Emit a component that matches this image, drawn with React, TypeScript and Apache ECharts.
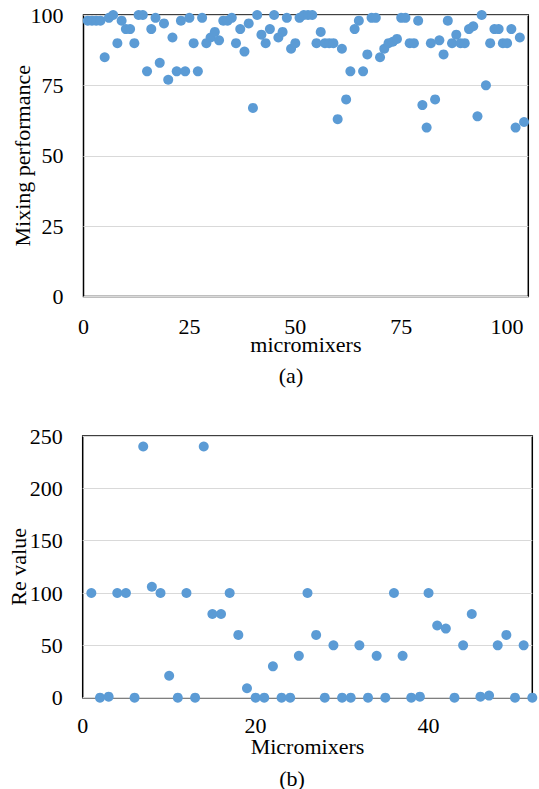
import React, { useEffect, useRef } from "react";
import * as echarts from "echarts";

// Chart (a): mixing performance of each micromixer (x = 1..104)
const mixingPerformance: number[] = [
  98, 98, 98, 98, 85, 99, 100, 90, 98, 95,
  95, 90, 100, 100, 80, 95, 99, 83, 97, 77,
  92, 80, 98, 80, 99, 90, 80, 99, 90, 92,
  94, 91, 98, 98, 99, 90, 95, 87, 97, 67,
  100, 93, 90, 95, 100, 92, 94, 99, 88, 90,
  99, 100, 100, 100, 90, 94, 90, 90, 90, 63,
  88, 70, 80, 95, 98, 80, 86, 99, 99, 85,
  88, 90, 90.5, 91.5, 99, 99, 90, 90, 98, 68,
  60, 90, 70, 91, 86, 98, 90, 93, 90, 90,
  95, 96, 64, 100, 75, 90, 95, 95, 90, 90,
  95, 60, 92, 62,
];

// Chart (b): Re value of each micromixer (x = 1..52)
const reValues: number[] = [
  100, 0, 1, 100, 100, 0, 240, 106, 100, 21,
  0, 100, 0, 240, 80, 80, 100, 60, 9, 0,
  0, 30, 0, 0, 40, 100, 60, 0, 50, 0,
  0, 50, 0, 40, 0, 100, 40, 0, 1, 100,
  69, 66, 0, 50, 80, 1, 2, 50, 60, 0,
  50, 0,
];

const topXTicks = [0, 25, 50, 75, 100];
const topYTicks = [0, 25, 50, 75, 100];
const bottomXTicks = [0, 20, 40];
const bottomYTicks = [0, 50, 100, 150, 200, 250];

const FONT = "'Liberation Serif', 'Times New Roman', serif";
const DOT = "#5B9BD5";

export default function App() {
  const ref = useRef<HTMLDivElement>(null);
  useEffect(() => {
    if (!ref.current) return;
    const chart = echarts.init(ref.current, undefined, { renderer: "svg" });
    const axisLabel = { color: "#000", fontFamily: FONT, fontSize: 22 };
    const xLabel = { ...axisLabel, lineHeight: 16 };
    const nameStyle = { color: "#000", fontFamily: FONT, fontSize: 22 };
    const xNameStyle = { ...nameStyle, lineHeight: 16 };
    chart.setOption({
      animation: false,
      backgroundColor: "#fff",
      grid: [
        { left: 83.5, top: 15, width: 444.8, height: 281.5, show: true, borderColor: "#000", borderWidth: 1.5, containLabel: false, outerBoundsMode: "none" },
        { left: 82.7, top: 436, width: 449.6, height: 261.7, show: true, borderColor: "#000", borderWidth: 1.5, containLabel: false, outerBoundsMode: "none" },
      ],
      xAxis: [
        {
          type: "value", gridIndex: 0, min: 0, max: 105, interval: 25,
          axisLine: { show: false }, axisTick: { show: false }, splitLine: { show: false },
          axisLabel: { ...xLabel, margin: 22, customValues: topXTicks },
          name: "micromixers", nameLocation: "middle", nameGap: 40, nameMoveOverlap: false, nameTextStyle: xNameStyle,
        },
        {
          type: "value", gridIndex: 1, min: 0, max: 52, interval: 20,
          axisLine: { show: false }, axisTick: { show: false }, splitLine: { show: false },
          axisLabel: { ...xLabel, margin: 20, customValues: bottomXTicks },
          name: "Micromixers", nameLocation: "middle", nameGap: 41, nameMoveOverlap: false, nameTextStyle: xNameStyle,
        },
      ],
      yAxis: [
        {
          type: "value", gridIndex: 0, min: 0, max: 100, interval: 25,
          axisLine: { show: false }, axisTick: { show: false },
          splitLine: { show: true, lineStyle: { color: "#d9d9d9", width: 1 } },
          axisLabel: { ...axisLabel, margin: 20, customValues: topYTicks },
          name: "Mixing performance", nameLocation: "middle", nameGap: 50, nameMoveOverlap: false, nameTextStyle: nameStyle,
        },
        {
          type: "value", gridIndex: 1, min: 0, max: 250, interval: 50,
          axisLine: { show: false }, axisTick: { show: false },
          splitLine: { show: true, lineStyle: { color: "#d9d9d9", width: 1 } },
          axisLabel: { ...axisLabel, margin: 20, customValues: bottomYTicks },
          name: "Re value", nameLocation: "middle", nameGap: 53, nameMoveOverlap: false, nameTextStyle: nameStyle,
        },
      ],
      series: [
        {
          type: "scatter", xAxisIndex: 0, yAxisIndex: 0, symbol: "circle", symbolSize: 10,
          itemStyle: { color: DOT, opacity: 1 }, clip: false,
          data: mixingPerformance.map((v, i) => [i + 1, v]),
        },
        {
          type: "scatter", xAxisIndex: 1, yAxisIndex: 1, symbol: "circle", symbolSize: 10,
          itemStyle: { color: DOT, opacity: 1 }, clip: false,
          data: reValues.map((v, i) => [i + 1, v]),
        },
      ],
      graphic: [
        { type: "text", x: 291, y: 375, style: { text: "(a)", fill: "#000", font: `22px ${FONT}`, align: "center", verticalAlign: "middle" } },
        { type: "text", x: 292, y: 778, style: { text: "(b)", fill: "#000", font: `22px ${FONT}`, align: "center", verticalAlign: "middle" } },
      ],
    });
    return () => chart.dispose();
  }, []);
  return (
    <div
      ref={ref}
      style={{ position: "absolute", left: 0, top: 0, width: 539, height: 789, background: "#fff" }}
    />
  );
}
